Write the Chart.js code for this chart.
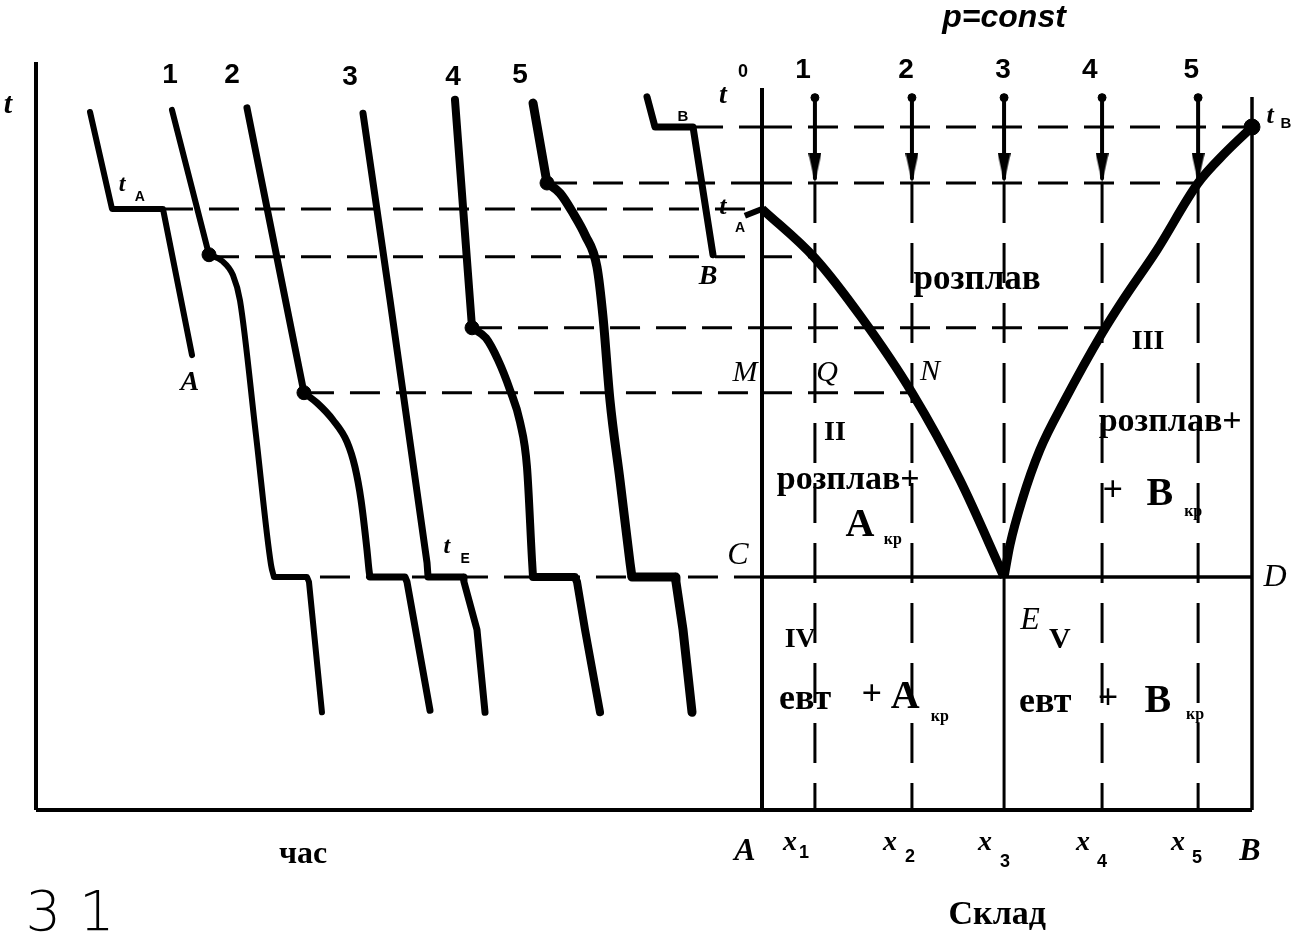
<!DOCTYPE html>
<html><head><meta charset="utf-8">
<script src="https://cdn.jsdelivr.net/npm/chart.js@4.4.0/dist/chart.umd.min.js"></script>
<style>html,body{margin:0;padding:0;background:#fff;}canvas{display:block;}</style>
</head><body>
<canvas id="c" width="1294" height="945"></canvas>
<script>
// ---- characteristic temperatures (arbitrary units: bottom axis = 0, t_B = 1000)
const tB = 1000, tA = 880, tEut = 341;
// ---- cooling curves (left panel): time vs temperature
const curveA_time = [7.44, 10.47, 17.49, 21.49];
const curveA_temp = [1022, 880, 880, 666];
const curve1_time = [18.73, 23.83, 25.62, 27.13, 28.10, 30.30, 32.37, 32.78, 37.33, 37.6, 39.39];
const curve1_temp = [1025, 813, 804, 783, 746, 549, 359, 341, 341, 334, 143];
const curve2_time = [29.06, 36.91, 38.71, 40.91, 42.84, 43.94, 44.77, 45.59, 45.87, 46.0, 50.83, 51.1, 54.27];
const curve2_temp = [1028, 611, 596, 571, 539, 502, 454, 381, 351, 341, 341, 334, 146];
const curve3_time = [45.04, 48.76, 53.86, 54.0, 58.82, 58.95, 60.74, 61.85];
const curve3_temp = [1020, 747, 362, 341, 341, 334, 264, 143];
const curve4_time = [57.71, 60.06, 61.98, 63.64, 65.29, 66.67, 67.63, 68.32, 68.46, 74.24, 74.52, 75.62, 77.69];
const curve4_temp = [1040, 706, 691, 659, 615, 568, 502, 366, 341, 341, 334, 264, 143];
const curve5_time = [68.46, 70.39, 72.18, 73.97, 75.62, 77.27, 78.1, 79.06, 80.44, 81.82, 82.09, 88.02, 88.15, 89.12, 90.36];
const curve5_temp = [1035, 918, 903, 874, 842, 795, 722, 600, 483, 362, 341, 341, 334, 264, 143];
const curveB_time = [84.16, 85.26, 90.5, 93.25];
const curveB_temp = [1044, 1000, 1000, 813];
// index range of the rounded (crystallisation) part of each curve
const curve1_round = [1, 7];
const curve2_round = [1, 9];
const curve4_round = [1, 8];
const curve5_round = [1, 10];
// break points (start of crystallisation) on curves 1,2,4,5
const breakTime = [23.83, 36.91, 60.06, 70.39];
const breakTemp = [813, 611, 706, 918];
// ---- phase diagram (right panel): composition (A=0 .. B=100) vs temperature
const liqA_comp = [0, 10.8, 20.4, 30.6, 40.4, 49.4];
const liqA_temp = [880, 808, 720, 611, 483, 341];
const liqB_comp = [49.4, 50.6, 53.1, 56.7, 61.8, 69.4, 73.7, 80.6, 89.0, 94.5, 100];
const liqB_temp = [341, 388, 454, 527, 600, 698, 747, 820, 918, 962, 1000];
const compX = [10.8, 30.6, 49.4, 69.4, 89.0];
const compNames = ['1', '2', '3', '4', '5'];
// isotherms (dashed): temperature, start on time axis, end on composition axis
const isoTemp = [1000, 918, 880, 810, 706, 611, 341];
const isoStartTime = [90.5, 70.39, 17.49, 23.83, 60.06, 36.91, 32.78];
const isoEndComp = [100, 89.0, null, 10.8, 69.4, 30.6, null];

const datasets = [];
function line(xs, ys, axis, opts) {
  datasets.push(Object.assign({
    data: xs.map((x, i) => ({x: x, y: ys[i]})), xAxisID: axis, yAxisID: 'y',
    showLine: true, borderColor: '#000', backgroundColor: '#000', borderWidth: 3,
    pointRadius: 0, tension: 0, fill: false, borderCapStyle: 'butt', borderJoinStyle: 'round'
  }, opts || {}));
}
function curve(xs, ys, round, w) {
  const a = round[0], b = round[1];
  line(xs.slice(0, a + 1), ys.slice(0, a + 1), 'xt', {borderWidth: w, borderCapStyle: 'round'});
  line(xs.slice(a, b + 1), ys.slice(a, b + 1), 'xt', {borderWidth: w, cubicInterpolationMode: 'monotone'});
  line(xs.slice(b), ys.slice(b), 'xt', {borderWidth: w, borderCapStyle: 'round'});
}
const dash = [30, 16];
// isotherms
isoTemp.forEach((T, i) => {
  line([isoStartTime[i], 100], [T, T], 'xt', {borderDash: dash});
  if (isoEndComp[i] !== null) line([0, isoEndComp[i]], [T, T], 'xc', {borderDash: dash});
});
// composition verticals with arrows
compX.forEach((x) => {
  line([x, x], [1043, 925], 'xc', {borderWidth: 4});
  if (x === 49.4) {
    line([x, x], [918, tEut], 'xc', {borderDash: [40, 20]});
    line([x, x], [tEut, 0], 'xc', {borderWidth: 3});
  } else {
    line([x, x], [918, 0], 'xc', {borderDash: [40, 20]});
  }
});
// arrow heads
const head = document.createElement('canvas');
head.width = 13; head.height = 30;
(function(){const g = head.getContext('2d'); g.fillStyle = '#000'; g.beginPath(); g.moveTo(0,0); g.lineTo(13,0); g.lineTo(6.5,30); g.closePath(); g.fill();})();
datasets.push({data: compX.map(x => ({x: x, y: 940})), xAxisID: 'xc', yAxisID: 'y', showLine: false, pointStyle: head, pointRadius: 10});
datasets.push({data: compX.map(x => ({x: x, y: 1043})), xAxisID: 'xc', yAxisID: 'y', showLine: false, pointRadius: 4, backgroundColor: '#000', borderColor: '#000'});
// frame / axes
line([0, 0], [0, 1095], 'xt', {borderWidth: 4});
line([0, 100], [0, 0], 'xt', {borderWidth: 4});
line([0, 100], [0, 0], 'xc', {borderWidth: 4});
line([0, 0], [0, 1057], 'xc', {borderWidth: 4});
line([100, 100], [0, 1044], 'xc', {borderWidth: 3.5});
line([0, 100], [tEut, tEut], 'xc', {borderWidth: 3.5});
// liquidus
line([-3.5, 0], [870, 880], 'xc', {borderWidth: 6});
line(liqA_comp, liqA_temp, 'xc', {borderWidth: 9, cubicInterpolationMode: 'monotone'});
line(liqB_comp, liqB_temp, 'xc', {borderWidth: 9, cubicInterpolationMode: 'monotone'});
// cooling curves
line(curveA_time, curveA_temp, 'xt', {borderWidth: 6, borderCapStyle: 'round'});
curve(curve1_time, curve1_temp, curve1_round, 6);
curve(curve2_time, curve2_temp, curve2_round, 7);
line(curve3_time, curve3_temp, 'xt', {borderWidth: 7, borderCapStyle: 'round'});
curve(curve4_time, curve4_temp, curve4_round, 8);
curve(curve5_time, curve5_temp, curve5_round, 9);
line(curveB_time, curveB_temp, 'xt', {borderWidth: 7, borderCapStyle: 'round'});
// break dots
datasets.push({data: breakTime.map((t, i) => ({x: t, y: breakTemp[i]})), xAxisID: 'xt', yAxisID: 'y', showLine: false, pointRadius: 7, backgroundColor: '#000', borderColor: '#000'});
datasets.push({data: [{x: 100, y: tB}], xAxisID: 'xc', yAxisID: 'y', showLine: false, pointRadius: 8, backgroundColor: '#000', borderColor: '#000'});

// ---- text labels (placed in data coordinates)
const fSerB = s => `bold ${s}px "Liberation Serif"`;
const fSerI = s => `italic ${s}px "Liberation Serif"`;
const fSerBI = s => `bold italic ${s}px "Liberation Serif"`;
const fSansB = s => `bold ${s}px "Liberation Sans"`;
const labels = [
  ['t', 'xt', -3.86, 1032, fSerBI(30)],
  ['1', 'xt', 18.46, 1076, fSansB(28)], ['2', 'xt', 27.0, 1076, fSansB(28)], ['3', 'xt', 43.25, 1073, fSansB(28)],
  ['4', 'xt', 57.44, 1073, fSansB(28)], ['5', 'xt', 66.67, 1076, fSansB(28)],
  ['t', 'xt', 11.85, 915, fSerBI(24)], ['A', 'xt', 14.3, 898, fSansB(14)],
  ['A', 'xt', 21.2, 625, fSerBI(28)],
  ['t', 'xt', 56.6, 385, fSerBI(24)], ['E', 'xt', 59.1, 368, fSansB(14)],
  ['B', 'xt', 89.1, 1015, fSansB(15)],
  ['B', 'xt', 92.56, 780, fSerBI(28)],
  ['M', 'xt', 97.66, 640, fSerI(30)],
  ['C', 'xt', 96.7, 373, fSerI(32)],
  ['час', 'xt', 36.78, -66, fSerB(32)],
  ['3 1', 'xt', 4.68, -154, '300 56px "DejaVu Sans"'],
  ['t', 'xc', -8.0, 1045, fSerBI(28)], ['0', 'xc', -3.9, 1080, fSansB(18)],
  ['p=const', 'xc', 49.4, 1160, 'bold italic 32px "Liberation Sans"'],
  ['t', 'xc', -8.0, 883, fSerBI(26)], ['A', 'xc', -4.5, 852, fSansB(14)],
  ['t', 'xc', 103.7, 1015, fSerBI(26)], ['B', 'xc', 106.9, 1004, fSansB(15)],
  ['розплав', 'xc', 43.9, 776, fSerB(35)],
  ['Q', 'xc', 13.3, 640, fSerI(30)], ['N', 'xc', 34.3, 641, fSerI(30)],
  ['II', 'xc', 14.9, 553, fSerB(28)],
  ['розплав+', 'xc', 17.6, 483, fSerB(34)],
  ['A', 'xc', 20.0, 417, fSerB(40)], ['кр', 'xc', 26.7, 395, fSerB(16)],
  ['III', 'xc', 78.8, 685, fSerB(28)],
  ['розплав+', 'xc', 83.3, 568, fSerB(34)],
  ['+', 'xc', 71.6, 466, fSerB(36)], ['B', 'xc', 81.2, 461, fSerB(40)], ['кр', 'xc', 88.0, 436, fSerB(16)],
  ['D', 'xc', 104.7, 340, fSerI(32)],
  ['E', 'xc', 54.7, 278, fSerI(32)], ['V', 'xc', 60.8, 249, fSerB(30)],
  ['IV', 'xc', 7.8, 249, fSerB(28)],
  ['евт', 'xc', 8.8, 161, fSerB(36)], ['+', 'xc', 22.4, 168, fSerB(36)], ['A', 'xc', 29.2, 165, fSerB(40)], ['кр', 'xc', 36.3, 136, fSerB(16)],
  ['евт', 'xc', 57.8, 157, fSerB(36)], ['+', 'xc', 70.6, 161, fSerB(36)], ['B', 'xc', 80.8, 158, fSerB(40)], ['кр', 'xc', 88.4, 139, fSerB(16)],
  ['A', 'xc', -3.5, -61, fSerBI(32)], ['B', 'xc', 99.6, -61, fSerBI(32)],
  ['x', 'xc', 5.71, -48, fSerBI(28)], ['1', 'xc', 8.57, -63, fSansB(18)],
  ['x', 'xc', 26.1, -48, fSerBI(28)], ['2', 'xc', 30.2, -69, fSansB(18)],
  ['x', 'xc', 45.5, -48, fSerBI(28)], ['3', 'xc', 49.6, -76, fSansB(18)],
  ['x', 'xc', 65.5, -48, fSerBI(28)], ['4', 'xc', 69.4, -76, fSansB(18)],
  ['x', 'xc', 84.9, -48, fSerBI(28)], ['5', 'xc', 88.8, -70, fSansB(18)],
  ['Склад', 'xc', 48.0, -154, fSerB(34)]
];
compNames.forEach((n, i) => labels.push([n, 'xc', [8.37, 29.4, 49.2, 66.9, 87.6][i], 1083, fSansB(28)]));

const labelPlugin = {
  id: 'labels',
  afterDatasetsDraw(chart) {
    const ctx = chart.ctx;
    ctx.save();
    ctx.fillStyle = '#000';
    ctx.textAlign = 'center';
    ctx.textBaseline = 'middle';
    labels.forEach(l => {
      ctx.font = l[4];
      const px = chart.scales[l[1]].getPixelForValue(l[2]);
      const py = chart.scales.y.getPixelForValue(l[3]);
      ctx.fillText(l[0], px, py);
    });
    ctx.restore();
  }
};

new Chart(document.getElementById('c'), {
  type: 'scatter',
  data: {datasets: datasets},
  options: {
    responsive: false, animation: false, events: [],
    layout: {padding: 0, autoPadding: false},
    plugins: {legend: {display: false}, tooltip: {enabled: false}, title: {display: false}},
    scales: {
      xt: {axis: 'x', type: 'linear', display: false, min: -4.959, max: 173.28},
      xc: {axis: 'x', type: 'linear', display: false, min: -155.51, max: 108.57},
      y: {axis: 'y', type: 'linear', display: false, min: -197.66, max: 1185.94}
    }
  },
  plugins: [labelPlugin]
});
</script>
</body></html>
